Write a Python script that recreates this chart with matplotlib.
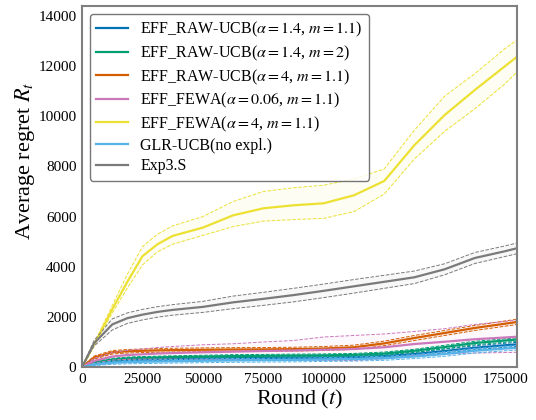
import numpy as np
import matplotlib.pyplot as plt

plt.rcParams['font.family'] = ['Liberation Serif', 'DejaVu Serif']
plt.rcParams['mathtext.fontset'] = 'stix'

# Rounds
t = [0, 5000, 12500, 18750, 25000, 31250, 37500, 50000, 62500, 75000, 87500,
     100000, 112500, 125000, 137500, 150000, 162500, 175000, 180000]

# EFF_RAW-UCB(alpha=1.4, m=1.1)
raw14_11 = [0, 150, 250, 285, 300, 310, 320, 340, 355, 365, 370, 380, 400, 440, 520, 640, 770, 870, 905]
raw14_11_lo = [0, 110, 200, 235, 250, 258, 265, 285, 300, 305, 310, 320, 335, 370, 450, 560, 690, 790, 825]
raw14_11_hi = [0, 190, 300, 335, 350, 362, 375, 395, 410, 425, 430, 440, 465, 510, 590, 720, 850, 950, 985]

# EFF_RAW-UCB(alpha=1.4, m=2)
raw14_2 = [0, 180, 300, 350, 370, 385, 400, 420, 440, 450, 460, 470, 490, 540, 650, 800, 960, 1060, 1100]
raw14_2_lo = [0, 140, 250, 300, 320, 335, 350, 370, 385, 395, 405, 415, 435, 480, 590, 730, 890, 990, 1030]
raw14_2_hi = [0, 220, 350, 400, 420, 435, 450, 470, 495, 505, 515, 525, 545, 600, 710, 870, 1030, 1130, 1170]

# EFF_RAW-UCB(alpha=4, m=1.1)
raw4_11 = [0, 380, 590, 630, 650, 665, 675, 690, 700, 705, 715, 740, 790, 945, 1160, 1360, 1560, 1730, 1800]
raw4_11_lo = [0, 320, 520, 560, 580, 590, 600, 615, 625, 630, 640, 660, 705, 855, 1060, 1260, 1460, 1630, 1700]
raw4_11_hi = [0, 440, 660, 700, 720, 738, 750, 765, 775, 780, 790, 820, 875, 1035, 1260, 1460, 1660, 1840, 1910]

# EFF_FEWA(alpha=0.06, m=1.1)
fewa006 = [0, 250, 420, 480, 510, 540, 560, 590, 615, 640, 660, 690, 720, 790, 920, 1010, 1110, 1180, 1210]
fewa006_lo = [0, 160, 280, 310, 320, 320, 320, 310, 320, 310, 300, 260, 260, 330, 460, 520, 560, 580, 590]
fewa006_hi = [0, 350, 580, 670, 720, 780, 820, 890, 930, 1000, 1060, 1200, 1260, 1320, 1420, 1530, 1700, 1820, 1880]

# EFF_FEWA(alpha=4, m=1.1)
fewa4 = [0, 900, 2300, 3400, 4420, 4900, 5230, 5560, 6050, 6330, 6450, 6530, 6850, 7420, 8850, 10050, 11050, 12000, 12380]
fewa4_lo = [0, 850, 2150, 3150, 4070, 4600, 4900, 5250, 5600, 5820, 5880, 5930, 6200, 6900, 8300, 9400, 10300, 11300, 11780]
fewa4_hi = [0, 950, 2450, 3700, 4800, 5300, 5630, 6000, 6600, 7000, 7150, 7250, 7500, 7900, 9450, 10800, 11700, 12700, 13050]

# GLR-UCB(no expl.)
glr = [0, 100, 170, 195, 210, 220, 230, 250, 265, 275, 285, 300, 320, 350, 420, 520, 650, 740, 770]
glr_lo = [0, 60, 110, 130, 140, 150, 160, 175, 190, 200, 210, 225, 240, 270, 340, 430, 560, 650, 680]
glr_hi = [0, 140, 230, 260, 280, 290, 300, 325, 340, 350, 360, 375, 400, 430, 500, 610, 740, 830, 860]

# Exp3.S
exp3s = [0, 950, 1700, 1950, 2090, 2200, 2280, 2400, 2580, 2720, 2870, 3040, 3220, 3400, 3580, 3900, 4350, 4620, 4740]
exp3s_lo = [0, 840, 1480, 1740, 1880, 1990, 2070, 2180, 2330, 2460, 2600, 2770, 2950, 3140, 3330, 3680, 4130, 4410, 4520]
exp3s_hi = [0, 1060, 1920, 2160, 2300, 2410, 2490, 2620, 2830, 2980, 3140, 3310, 3490, 3660, 3830, 4120, 4570, 4830, 4950]

series = [
    (r'EFF_RAW-UCB($\alpha=1.4$, $m=1.1$)', raw14_11, raw14_11_lo, raw14_11_hi, '#0173b2'),
    (r'EFF_RAW-UCB($\alpha=1.4$, $m=2$)', raw14_2, raw14_2_lo, raw14_2_hi, '#029e73'),
    (r'EFF_RAW-UCB($\alpha=4$, $m=1.1$)', raw4_11, raw4_11_lo, raw4_11_hi, '#d55e00'),
    (r'EFF_FEWA($\alpha=0.06$, $m=1.1$)', fewa006, fewa006_lo, fewa006_hi, '#cc78bc'),
    (r'EFF_FEWA($\alpha=4$, $m=1.1$)', fewa4, fewa4_lo, fewa4_hi, '#ece133'),
    ('GLR-UCB(no expl.)', glr, glr_lo, glr_hi, '#56b4e9'),
    ('Exp3.S', exp3s, exp3s_lo, exp3s_hi, '#7a7a7a'),
]

fig = plt.figure(figsize=(5.36, 4.2), dpi=100)
ax = fig.add_axes([0.153, 0.126, 0.812, 0.86])

for label, mean, lo, hi, c in series:
    ax.fill_between(t, lo, hi, color=c, alpha=0.05, lw=0)
    ax.plot(t, lo, color=c, lw=0.7, ls='--')
    ax.plot(t, hi, color=c, lw=0.7, ls='--')
    ax.plot(t, mean, color=c, lw=1.6, label=label)

ax.set_xlim(0, 180000)
ax.set_ylim(0, 14400)
ax.set_xticks(np.arange(0, 175001, 25000))
ax.set_yticks(np.arange(0, 14001, 2000))
ax.tick_params(length=0, labelsize=11, pad=4)
for s in ax.spines.values():
    s.set_color('#808080')
    s.set_linewidth(1.5)

ax.set_xlabel(r'Round ($t$)', fontsize=16, labelpad=2)
ax.set_ylabel(r'Average regret $R_t$', fontsize=16)
ax.yaxis.set_label_coords(-0.103, 0.57)

leg = ax.legend(loc='upper left', fontsize=11.5, frameon=True, fancybox=True,
                handlelength=2.0, handletextpad=0.75, labelspacing=0.27,
                borderaxespad=0.5)
leg.get_frame().set_edgecolor('#555555')
leg.get_frame().set_linewidth(1.0)

fig.savefig('out.png', dpi=100)
